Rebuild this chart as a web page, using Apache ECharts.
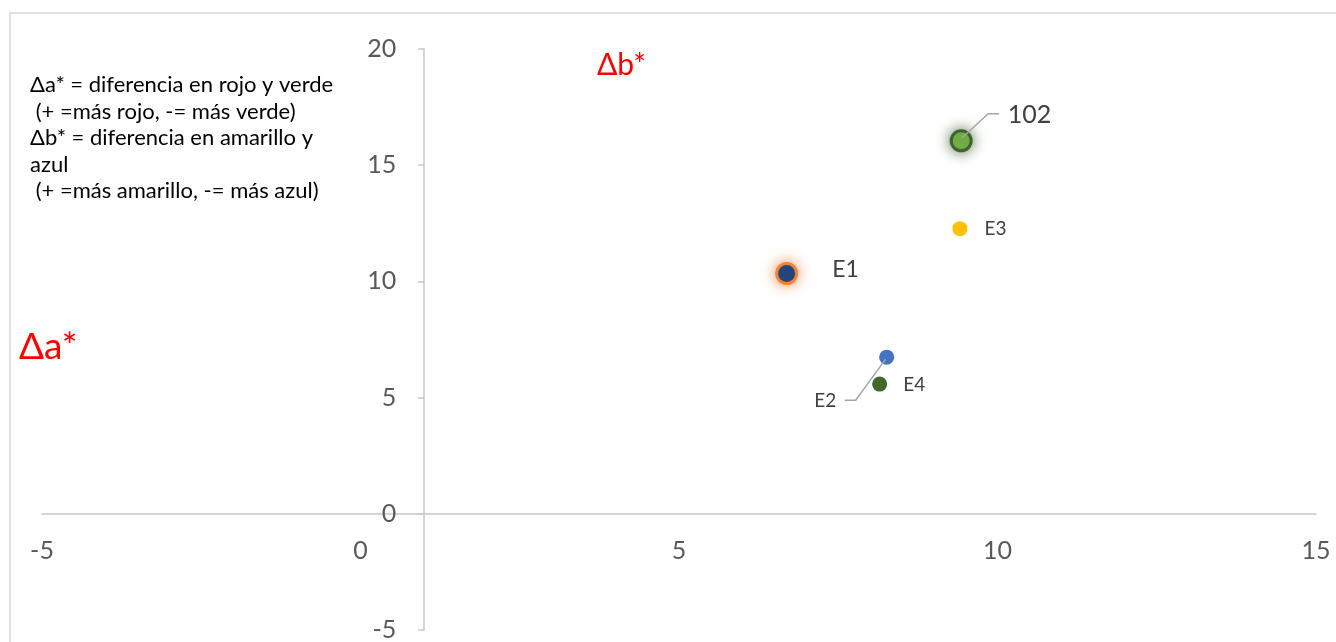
<!DOCTYPE html>
<html>
<head>
<meta charset="utf-8">
<title>Δa* / Δb*</title>
<script src="https://cdn.jsdelivr.net/npm/echarts@6/dist/echarts.min.js"></script>
<style>
  html, body { margin: 0; padding: 0; background: #ffffff; }
  #chart { width: 1336px; height: 642px; }
</style>
</head>
<body>
<div id="chart"></div>
<script>
// Sample names and their colour differences
const sampleNames = ['102', 'E1', 'E2', 'E3', 'E4'];
const deltaA = [9.43, 6.69, 8.26, 9.41, 8.15];   // horizontal
const deltaB = [16.05, 10.34, 6.74, 12.27, 5.58]; // vertical

// Axis ranges and tick labels
const xTicks = [-5, 0, 5, 10, 15];
const yTicks = [-5, 0, 5, 10, 15, 20];
const yAxisCrossAt = 1;
const xAxisCrossAt = 0;

const noteLines = [
  'Δa* = diferencia en rojo y verde',
  ' (+ =más rojo, -= más verde)',
  'Δb* = diferencia en amarillo y',
  'azul',
  ' (+ =más amarillo, -= más azul)'
];

// Marker appearance per sample
const markerStyle = {
  '102': { color: '#70AD47', glow: '#375623', size: 17 },
  'E1':  { color: '#264478', glow: '#ED7D31', size: 17 },
  'E2':  { color: '#4472C4', size: 15 },
  'E3':  { color: '#FFC000', size: 15 },
  'E4':  { color: '#43682B', size: 15 }
};
// Label placement per sample
const labelStyle = {
  '102': { position: 'right', distance: 38, offset: [0, -26], fontSize: 25 },
  'E1':  { position: 'right', distance: 37, offset: [0, -4], fontSize: 23 },
  'E2':  { position: 'left',  distance: 43, offset: [0, 44], fontSize: 19 },
  'E3':  { position: 'right', distance: 17, offset: [0, 0], fontSize: 19 },
  'E4':  { position: 'right', distance: 16, offset: [0, 1], fontSize: 19 }
};
// Leader lines (pixel offsets from the marker centre)
const leaderLines = {
  '102': [[1, -3], [27, -27], [38, -27]],
  'E2':  [[-1, 2], [-31, 43], [-42, 43]]
};

const FONT = 'Lato, "Open Sans", sans-serif';
const GRID = { left: 42, right: 20, top: 49, bottom: 12 };
const chartWidth = 1336, chartHeight = 642;
const xMin = xTicks[0], xMax = xTicks[xTicks.length - 1];
const yMin = yTicks[0], yMax = yTicks[yTicks.length - 1];
const gridWidth = chartWidth - GRID.left - GRID.right;
const gridHeight = chartHeight - GRID.top - GRID.bottom;
// Axes cross inside the plot, so shift them in from the grid edges
const yAxisOffset = -((yAxisCrossAt - xMin) / (xMax - xMin)) * gridWidth;
const xAxisOffset = -((xAxisCrossAt - yMin) / (yMax - yMin)) * gridHeight;

// Soft halo drawn behind the highlighted samples
const glowPoints = [];
sampleNames.forEach((name, i) => {
  const m = markerStyle[name];
  if (!m.glow) return;
  glowPoints.push({
    name: name,
    value: [deltaA[i], deltaB[i]],
    symbolSize: m.size + 6,
    itemStyle: { color: m.glow, opacity: 0.9, shadowBlur: 14, shadowColor: m.glow }
  });
});

const points = sampleNames.map((name, i) => {
  const m = markerStyle[name];
  const l = labelStyle[name];
  return {
    name: name,
    value: [deltaA[i], deltaB[i]],
    symbolSize: m.size,
    itemStyle: { color: m.color, opacity: 1 },
    label: {
      show: true,
      formatter: '{b}',
      position: l.position,
      distance: l.distance,
      offset: l.offset,
      fontSize: l.fontSize,
      fontFamily: FONT,
      color: '#404040'
    }
  };
});

const chart = echarts.init(document.getElementById('chart'), null, { renderer: 'canvas' });

const axisLineStyle = { color: '#C8C8C8', width: 1.5 };

const option = {
  animation: false,
  backgroundColor: '#ffffff',
  grid: Object.assign({ containLabel: false, outerBoundsMode: 'none' }, GRID),
  xAxis: {
    type: 'value',
    min: xMin,
    max: xMax,
    interval: 5,
    position: 'bottom',
    offset: xAxisOffset,
    axisLine: { show: true, onZero: false, lineStyle: axisLineStyle },
    axisTick: { show: false },
    splitLine: { show: false },
    axisLabel: { show: true, fontSize: 25, fontFamily: FONT, color: '#595959', margin: 25 }
  },
  yAxis: {
    type: 'value',
    min: yMin,
    max: yMax,
    interval: 5,
    position: 'left',
    offset: yAxisOffset,
    axisLine: { show: true, onZero: false, lineStyle: axisLineStyle },
    axisTick: { show: true, length: 6, lineStyle: axisLineStyle },
    splitLine: { show: false },
    axisLabel: { fontSize: 25, fontFamily: FONT, color: '#595959', margin: 28 }
  },
  series: [
    {
      type: 'scatter',
      data: glowPoints,
      silent: true,
      z: 2
    },
    {
      type: 'scatter',
      data: points,
      z: 3
    }
  ],
  graphic: [
    {
      type: 'rect',
      shape: { x: 10, y: 13, width: 1340, height: 640 },
      style: { fill: 'none', stroke: '#D9D9D9', lineWidth: 1.5 },
      silent: true, z: -1
    },
    {
      type: 'text',
      left: 30, top: 72,
      style: {
        text: noteLines.join('\n'),
        font: '22px ' + FONT,
        lineHeight: 26.5,
        fill: '#000000'
      }
    },
    {
      type: 'text',
      left: 19, top: 329,
      style: { text: 'Δa*', font: '37px ' + FONT, fill: '#FF0000' }
    },
    {
      type: 'text',
      left: 597, top: 50,
      style: { text: 'Δb*', font: '30px ' + FONT, fill: '#FF0000' }
    }
  ]
};

chart.setOption(option);

// Leader lines from markers to their moved labels
const leaderGraphics = [];
sampleNames.forEach((name, i) => {
  const offsets = leaderLines[name];
  if (!offsets) return;
  const c = chart.convertToPixel({ gridIndex: 0 }, [deltaA[i], deltaB[i]]);
  leaderGraphics.push({
    type: 'polyline',
    shape: { points: offsets.map(o => [c[0] + o[0], c[1] + o[1]]) },
    style: { stroke: '#A6A6A6', lineWidth: 1.5, fill: 'none' },
    z: 10,
    silent: true
  });
});
chart.setOption({ graphic: option.graphic.concat(leaderGraphics) });
</script>
</body>
</html>
